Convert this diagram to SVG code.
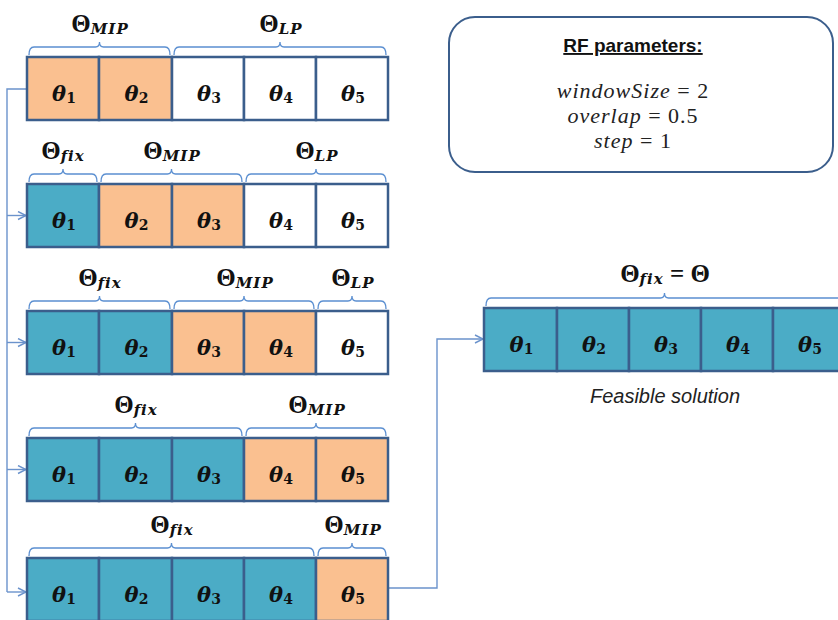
<svg xmlns="http://www.w3.org/2000/svg" width="838" height="620" viewBox="0 0 838 620">
<style>
.c{stroke:#3B5E8C;stroke-width:2.5}
.o{fill:#FAC090}
.t{fill:#4BACC6}
.w{fill:#FFFFFF}
.br{fill:none;stroke:#5B8FD1;stroke-width:1.3}
.cn{fill:none;stroke:#6B93CC;stroke-width:1.4}
.th{font-family:"DejaVu Serif",serif;font-weight:bold;font-style:italic;font-size:21px;fill:#111;text-anchor:middle}
.th tspan{font-style:normal;font-size:14px}
.lb{font-family:"Liberation Serif","Times New Roman",serif;font-weight:bold;font-size:25px;fill:#111;text-anchor:middle}
.lb tspan.s{font-family:"DejaVu Serif",serif;font-style:italic;font-size:15px;letter-spacing:1px}
.rf{font-family:"Liberation Sans",Arial,sans-serif;font-weight:bold;font-size:19px;fill:#111;text-anchor:middle;text-decoration:underline}
.eq{font-family:"Liberation Serif","Times New Roman",serif;font-style:italic;font-size:22px;fill:#222;text-anchor:middle;letter-spacing:1px}
.eq tspan{font-style:normal}
.fs{font-family:"Liberation Sans",Arial,sans-serif;font-style:italic;font-size:20px;fill:#222;text-anchor:middle}
</style>
<defs>
<marker id="arr" markerUnits="userSpaceOnUse" markerWidth="12" markerHeight="12" refX="9" refY="5" orient="auto">
<path d="M1,1 L9,5 L1,9" fill="none" stroke="#6B93CC" stroke-width="1.4"/>
</marker>
</defs>

<g id="connectors">
<path class="cn" d="M27 89 H7 V592"/>
<path class="cn" d="M7 215.5 H26" marker-end="url(#arr)"/>
<path class="cn" d="M7 342.5 H26" marker-end="url(#arr)"/>
<path class="cn" d="M7 469.5 H26" marker-end="url(#arr)"/>
<path class="cn" d="M7 592 H26" marker-end="url(#arr)"/>
<path class="cn" d="M389 588 H437 V339 H483" marker-end="url(#arr)"/>
</g>

<g id="rf-box">
<rect x="449" y="17" width="384" height="155" rx="26" ry="26" fill="#fff" stroke="#3B5E8C" stroke-width="2"/>
<text class="rf" x="633" y="52">RF parameters:</text>
<text class="eq" x="633" y="98">windowSize<tspan> = 2</tspan></text>
<text class="eq" x="633" y="123">overlap<tspan> = 0.5</tspan></text>
<text class="eq" x="633" y="148">step<tspan> = 1</tspan></text>
</g>

<g id="row1">
<path class="br" d="M29 55 Q29 47 34 47 H95.5 Q99.5 47 99.5 42 Q99.5 47 103.5 47 H165 Q170 47 170 55"/>
<path class="br" d="M174 55 Q174 47 179 47 H276 Q280 47 280 42 Q280 47 284 47 H381 Q386 47 386 55"/>
<text class="lb" x="100" y="32">Θ<tspan class="s" dy="2">MIP</tspan></text>
<text class="lb" x="281" y="32">Θ<tspan class="s" dy="2">LP</tspan></text>
<rect class="c o" x="27" y="57" width="72" height="63"/>
<rect class="c o" x="99" y="57" width="73" height="63"/>
<rect class="c w" x="172" y="57" width="72" height="63"/>
<rect class="c w" x="244" y="57" width="72" height="63"/>
<rect class="c w" x="316" y="57" width="72" height="63"/>
<text class="th" x="64" y="100.5">θ<tspan dy="2">1</tspan></text>
<text class="th" x="136.5" y="100.5">θ<tspan dy="2">2</tspan></text>
<text class="th" x="209" y="100.5">θ<tspan dy="2">3</tspan></text>
<text class="th" x="281" y="100.5">θ<tspan dy="2">4</tspan></text>
<text class="th" x="353" y="100.5">θ<tspan dy="2">5</tspan></text>
</g>

<g id="row2">
<path class="br" d="M29 182 Q29 174 34 174 H59 Q63 174 63 169 Q63 174 67 174 H92 Q97 174 97 182"/>
<path class="br" d="M101 182 Q101 174 106 174 H167.5 Q171.5 174 171.5 169 Q171.5 174 175.5 174 H237 Q242 174 242 182"/>
<path class="br" d="M246 182 Q246 174 251 174 H312 Q316 174 316 169 Q316 174 320 174 H381 Q386 174 386 182"/>
<text class="lb" x="63" y="159">Θ<tspan class="s" dy="2">fix</tspan></text>
<text class="lb" x="172" y="159">Θ<tspan class="s" dy="2">MIP</tspan></text>
<text class="lb" x="317" y="159">Θ<tspan class="s" dy="2">LP</tspan></text>
<rect class="c t" x="27" y="184" width="72" height="63"/>
<rect class="c o" x="99" y="184" width="73" height="63"/>
<rect class="c o" x="172" y="184" width="72" height="63"/>
<rect class="c w" x="244" y="184" width="72" height="63"/>
<rect class="c w" x="316" y="184" width="72" height="63"/>
<text class="th" x="64" y="227.5">θ<tspan dy="2">1</tspan></text>
<text class="th" x="136.5" y="227.5">θ<tspan dy="2">2</tspan></text>
<text class="th" x="209" y="227.5">θ<tspan dy="2">3</tspan></text>
<text class="th" x="281" y="227.5">θ<tspan dy="2">4</tspan></text>
<text class="th" x="353" y="227.5">θ<tspan dy="2">5</tspan></text>
</g>

<g id="row3">
<path class="br" d="M29 309 Q29 301 34 301 H95.5 Q99.5 301 99.5 296 Q99.5 301 103.5 301 H165 Q170 301 170 309"/>
<path class="br" d="M174 309 Q174 301 179 301 H240 Q244 301 244 296 Q244 301 248 301 H309 Q314 301 314 309"/>
<path class="br" d="M318 309 Q318 301 323 301 H348 Q352 301 352 296 Q352 301 356 301 H381 Q386 301 386 309"/>
<text class="lb" x="100" y="286">Θ<tspan class="s" dy="2">fix</tspan></text>
<text class="lb" x="245" y="286">Θ<tspan class="s" dy="2">MIP</tspan></text>
<text class="lb" x="353" y="286">Θ<tspan class="s" dy="2">LP</tspan></text>
<rect class="c t" x="27" y="311" width="72" height="63"/>
<rect class="c t" x="99" y="311" width="73" height="63"/>
<rect class="c o" x="172" y="311" width="72" height="63"/>
<rect class="c o" x="244" y="311" width="72" height="63"/>
<rect class="c w" x="316" y="311" width="72" height="63"/>
<text class="th" x="64" y="354.5">θ<tspan dy="2">1</tspan></text>
<text class="th" x="136.5" y="354.5">θ<tspan dy="2">2</tspan></text>
<text class="th" x="209" y="354.5">θ<tspan dy="2">3</tspan></text>
<text class="th" x="281" y="354.5">θ<tspan dy="2">4</tspan></text>
<text class="th" x="353" y="354.5">θ<tspan dy="2">5</tspan></text>
</g>

<g id="row4">
<path class="br" d="M29 436 Q29 428 34 428 H131.5 Q135.5 428 135.5 423 Q135.5 428 139.5 428 H237 Q242 428 242 436"/>
<path class="br" d="M246 436 Q246 428 251 428 H312 Q316 428 316 423 Q316 428 320 428 H381 Q386 428 386 436"/>
<text class="lb" x="136" y="413">Θ<tspan class="s" dy="2">fix</tspan></text>
<text class="lb" x="317" y="413">Θ<tspan class="s" dy="2">MIP</tspan></text>
<rect class="c t" x="27" y="438" width="72" height="63"/>
<rect class="c t" x="99" y="438" width="73" height="63"/>
<rect class="c t" x="172" y="438" width="72" height="63"/>
<rect class="c o" x="244" y="438" width="72" height="63"/>
<rect class="c o" x="316" y="438" width="72" height="63"/>
<text class="th" x="64" y="481.5">θ<tspan dy="2">1</tspan></text>
<text class="th" x="136.5" y="481.5">θ<tspan dy="2">2</tspan></text>
<text class="th" x="209" y="481.5">θ<tspan dy="2">3</tspan></text>
<text class="th" x="281" y="481.5">θ<tspan dy="2">4</tspan></text>
<text class="th" x="353" y="481.5">θ<tspan dy="2">5</tspan></text>
</g>

<g id="row5">
<path class="br" d="M29 556 Q29 548 34 548 H167.5 Q171.5 548 171.5 543 Q171.5 548 175.5 548 H309 Q314 548 314 556"/>
<path class="br" d="M318 556 Q318 548 323 548 H348 Q352 548 352 543 Q352 548 356 548 H381 Q386 548 386 556"/>
<text class="lb" x="172" y="533">Θ<tspan class="s" dy="2">fix</tspan></text>
<text class="lb" x="353" y="533">Θ<tspan class="s" dy="2">MIP</tspan></text>
<rect class="c t" x="27" y="558" width="72" height="63"/>
<rect class="c t" x="99" y="558" width="73" height="63"/>
<rect class="c t" x="172" y="558" width="72" height="63"/>
<rect class="c t" x="244" y="558" width="72" height="63"/>
<rect class="c o" x="316" y="558" width="72" height="63"/>
<text class="th" x="64" y="601.5">θ<tspan dy="2">1</tspan></text>
<text class="th" x="136.5" y="601.5">θ<tspan dy="2">2</tspan></text>
<text class="th" x="209" y="601.5">θ<tspan dy="2">3</tspan></text>
<text class="th" x="281" y="601.5">θ<tspan dy="2">4</tspan></text>
<text class="th" x="353" y="601.5">θ<tspan dy="2">5</tspan></text>
</g>

<g id="solution">
<path class="br" d="M486 306 Q486 298 491 298 H660.5 Q664.5 298 664.5 293 Q664.5 298 668.5 298 H845"/>
<text class="lb" x="665" y="282">Θ<tspan class="s" dy="2">fix</tspan><tspan dy="-2"> = Θ</tspan></text>
<rect class="c t" x="484" y="308" width="73" height="63"/>
<rect class="c t" x="557" y="308" width="72" height="63"/>
<rect class="c t" x="629" y="308" width="72" height="63"/>
<rect class="c t" x="701" y="308" width="72" height="63"/>
<rect class="c t" x="773" y="308" width="72" height="63"/>
<text class="th" x="521.5" y="351.5">θ<tspan dy="2">1</tspan></text>
<text class="th" x="594" y="351.5">θ<tspan dy="2">2</tspan></text>
<text class="th" x="666" y="351.5">θ<tspan dy="2">3</tspan></text>
<text class="th" x="738" y="351.5">θ<tspan dy="2">4</tspan></text>
<text class="th" x="810" y="351.5">θ<tspan dy="2">5</tspan></text>
<text class="fs" x="665" y="403">Feasible solution</text>
</g>
</svg>
